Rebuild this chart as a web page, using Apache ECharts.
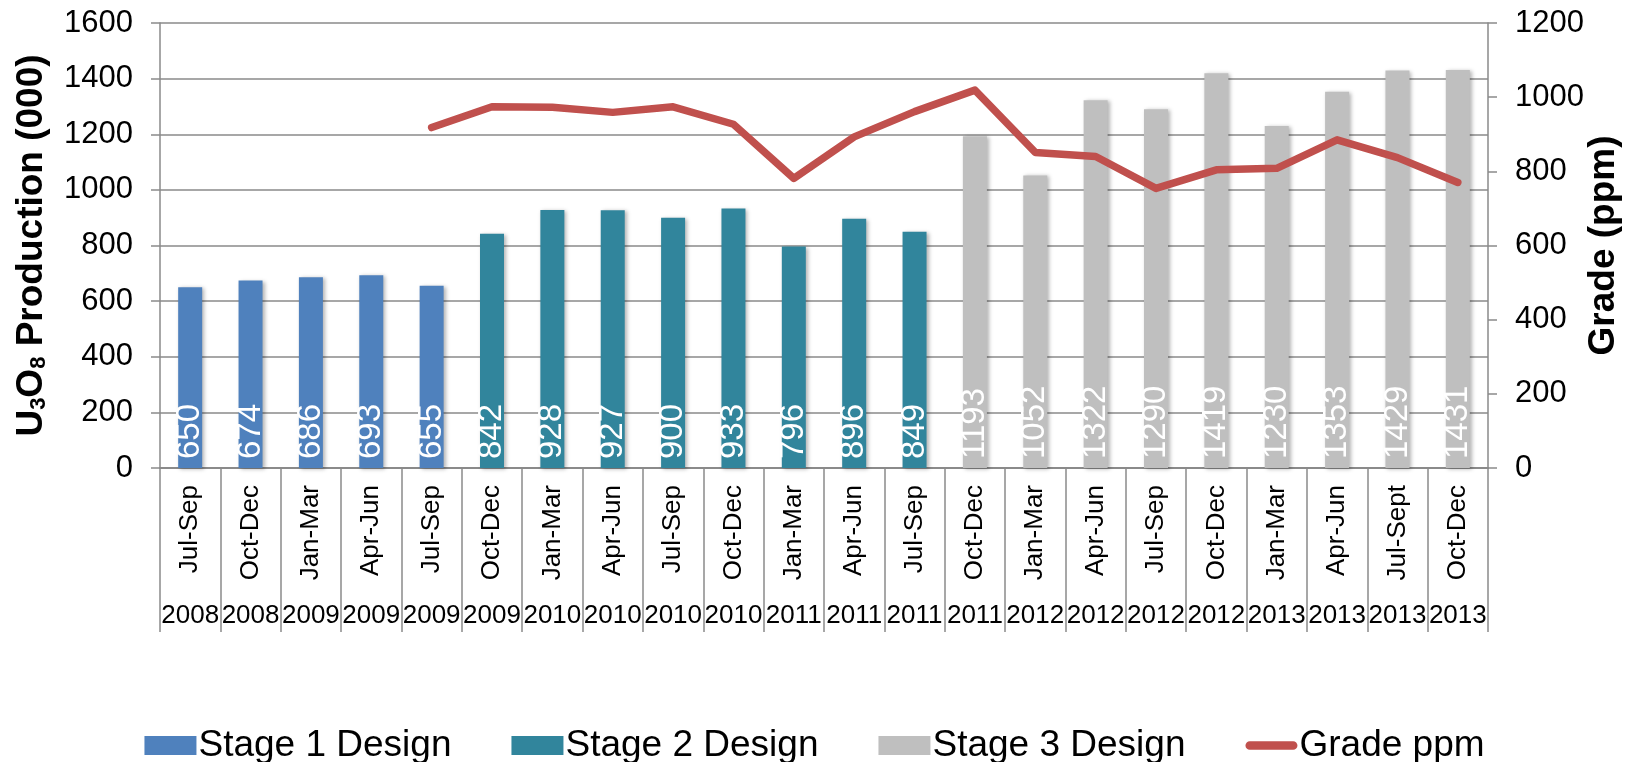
<!DOCTYPE html>
<html>
<head>
<meta charset="utf-8">
<script src="https://cdn.jsdelivr.net/npm/echarts@6/dist/echarts.min.js"></script>
<style>
html,body{margin:0;padding:0;background:#fff;}
#chart{width:1629px;height:762px;}
</style>
</head>
<body>
<div id="chart"></div>
<script>
var quarters = ['Jul-Sep','Oct-Dec','Jan-Mar','Apr-Jun','Jul-Sep','Oct-Dec','Jan-Mar','Apr-Jun','Jul-Sep','Oct-Dec','Jan-Mar','Apr-Jun','Jul-Sep','Oct-Dec','Jan-Mar','Apr-Jun','Jul-Sep','Oct-Dec','Jan-Mar','Apr-Jun','Jul-Sept','Oct-Dec'];
var years = ['2008','2008','2009','2009','2009','2009','2010','2010','2010','2010','2011','2011','2011','2011','2012','2012','2012','2012','2013','2013','2013','2013'];
var stage1 = [650,674,686,693,655,'-','-','-','-','-','-','-','-','-','-','-','-','-','-','-','-','-'];
var stage2 = ['-','-','-','-','-',842,928,927,900,933,796,896,849,'-','-','-','-','-','-','-','-','-'];
var stage3 = ['-','-','-','-','-','-','-','-','-','-','-','-','-',1193,1052,1322,1290,1419,1230,1353,1429,1431];
var grade = ['-','-','-','-',918,974,973,959,974,927,781,893,961,1019,851,840,754,804,808,885,837,770];
var leftTicks = [0,1600,200];
var rightTicks = [0,1200,200];

var FONT = 'Liberation Sans, Arial, sans-serif';
var axisGray = '#8a8a8a';

function barLabel(){
  return {
    show:true, position:'insideBottom', rotate:90, distance:9,
    align:'left', verticalAlign:'middle',
    color:'#fff', fontSize:33, fontFamily:FONT
  };
}
function plain(v){ return String(v); }
var shadow = {shadowBlur:4, shadowOffsetX:2, shadowOffsetY:1, shadowColor:'rgba(0,0,0,0.3)'};

var chart = echarts.init(document.getElementById('chart'), null, {renderer:'canvas'});
chart.setOption({
  animation:false,
  textStyle:{fontFamily:FONT},
  grid:{left:160, right:141, top:23, bottom:294, containLabel:false, outerBoundsMode:'none'},
  legend:{
    left:'center', top:722, itemWidth:52, itemHeight:19, itemGap:60,
    symbolKeepAspect:true,
    textStyle:{fontSize:37, color:'#000', fontFamily:FONT, padding:[0,0,0,-3]},
    data:[
      {name:'Stage 1 Design', icon:'rect'},
      {name:'Stage 2 Design', icon:'rect'},
      {name:'Stage 3 Design', icon:'rect'},
      {name:'Grade ppm', icon:'path://M5,0H55A5,5 0 0 1 55,10H5A5,5 0 0 1 5,0Z'}
    ]
  },
  xAxis:[{
    type:'category', data:quarters, position:'bottom',
    axisLine:{show:true, lineStyle:{color:axisGray, width:2}},
    axisTick:{show:true, interval:0, length:164, lineStyle:{color:axisGray, width:1.5}},
    axisLabel:{interval:0, rotate:90, fontSize:26, color:'#000', margin:17, fontFamily:FONT}
  },{
    type:'category', data:years, position:'bottom', offset:130,
    axisLine:{show:false}, axisTick:{show:false},
    axisLabel:{interval:0, fontSize:26, color:'#000', margin:5, fontFamily:FONT}
  }],
  yAxis:[{
    type:'value', min:leftTicks[0], max:leftTicks[1], interval:leftTicks[2], position:'left',
    name:'{b|U}{s|3}{b|O}{s|8}{b| Production (000)}',
    nameLocation:'middle', nameRotate:90, nameGap:110, nameMoveOverlap:false,
    nameTextStyle:{rich:{
      b:{fontSize:37, fontWeight:'bold', color:'#000', fontFamily:FONT, verticalAlign:'bottom', lineHeight:40},
      s:{fontSize:22, fontWeight:'bold', color:'#000', fontFamily:FONT, verticalAlign:'bottom', lineHeight:30}
    }},
    axisLine:{show:true, lineStyle:{color:axisGray, width:1.5}},
    axisTick:{show:true, length:9, lineStyle:{color:axisGray, width:1.5}},
    axisLabel:{fontSize:31, color:'#000', margin:27, fontFamily:FONT, formatter:plain},
    splitLine:{show:true, lineStyle:{color:axisGray, width:1.5}}
  },{
    type:'value', min:rightTicks[0], max:rightTicks[1], interval:rightTicks[2], position:'right',
    name:'Grade (ppm)', nameLocation:'middle', nameRotate:90, nameGap:97, nameMoveOverlap:false,
    nameTextStyle:{fontSize:37, fontWeight:'bold', color:'#000', fontFamily:FONT},
    axisLine:{show:true, lineStyle:{color:axisGray, width:1.5}},
    axisTick:{show:true, length:9, lineStyle:{color:axisGray, width:1.5}},
    axisLabel:{fontSize:31, color:'#000', margin:27, fontFamily:FONT, formatter:plain},
    splitLine:{show:false}
  }],
  series:[
    {name:'Stage 1 Design', type:'bar', stack:'prod', barWidth:24, data:stage1,
     itemStyle:Object.assign({color:'#4F81BD'}, shadow), label:barLabel()},
    {name:'Stage 2 Design', type:'bar', stack:'prod', barWidth:24, data:stage2,
     itemStyle:Object.assign({color:'#31859C'}, shadow), label:barLabel()},
    {name:'Stage 3 Design', type:'bar', stack:'prod', barWidth:24, data:stage3,
     itemStyle:Object.assign({color:'#BFBFBF'}, shadow), label:barLabel()},
    {name:'Grade ppm', type:'line', yAxisIndex:1, data:grade, symbol:'none',
     itemStyle:{color:'#C0504D'},
     lineStyle:{color:'#C0504D', width:7.5, cap:'round', join:'round'}}
  ]
});
</script>
</body>
</html>
